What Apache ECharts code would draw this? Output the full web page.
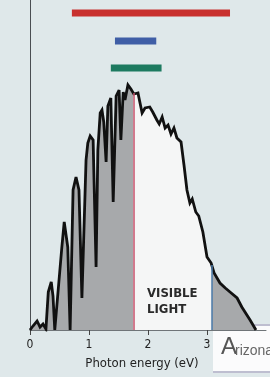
<!DOCTYPE html>
<html>
<head>
<meta charset="utf-8">
<script src="https://cdn.jsdelivr.net/npm/echarts@6/dist/echarts.min.js"></script>
<style>
  html, body { margin: 0; padding: 0; background: #dfe8ea; }
  #chart { width: 270px; height: 377px; }
</style>
</head>
<body>
<div id="chart"></div>
<script>
// solar spectrum, photon energy (eV) vs relative intensity
const energy = [0.00, 0.05, 0.12, 0.17, 0.22, 0.27, 0.31, 0.36, 0.39, 0.42,
  0.54, 0.58, 0.64, 0.68, 0.73, 0.78, 0.83, 0.88, 0.95, 0.98,
  1.02, 1.07, 1.08, 1.12, 1.15, 1.19, 1.22, 1.25, 1.29, 1.32,
  1.37, 1.41, 1.46, 1.51, 1.54, 1.58, 1.61, 1.66, 1.71, 1.76,
  1.83, 1.90, 1.95, 2.03, 2.08, 2.15, 2.19, 2.24, 2.29, 2.34,
  2.39, 2.44, 2.49, 2.56, 2.61, 2.66, 2.71, 2.75, 2.81, 2.86,
  2.93, 3.00, 3.07, 3.12, 3.22, 3.31, 3.39, 3.51, 3.59, 3.73, 3.83]
const intensity = [0.000, 0.020, 0.045, 0.015, 0.030, 0.005, 0.190, 0.240, 0.170, 0.000,
  0.415, 0.540, 0.415, 0.000, 0.700, 0.765, 0.700, 0.160, 0.850, 0.935,
  0.970, 0.950, 0.815, 0.315, 0.900, 1.085, 1.100, 1.040, 0.840, 1.120,
  1.160, 0.640, 1.170, 1.200, 0.950, 1.190, 1.150, 1.225, 1.205, 1.180,
  1.185, 1.085, 1.110, 1.115, 1.090, 1.050, 1.030, 1.065, 1.010, 1.025,
  0.980, 1.010, 0.960, 0.940, 0.825, 0.700, 0.635, 0.655, 0.590, 0.570,
  0.490, 0.365, 0.335, 0.285, 0.235, 0.210, 0.190, 0.160, 0.115, 0.050, 0.000]

// visible light limits (eV)
const visibleRange = [1.75, 3.08]

// absorption bands shown as bars above the spectrum
const bandStart = [0.71, 1.44, 1.37]
const bandEnd = [3.39, 2.14, 2.23]
const bandLevel = [1.585, 1.445, 1.31]
const bandColors = ['#c8302e', '#3f5ea6', '#1d7a60']

const xTicks = [0, 1, 2, 3, 4]

const spectrum = energy.map((e, i) => [e, intensity[i]])

const yAt = (x) => {
  for (let i = 1; i < energy.length; i++) {
    if (energy[i] >= x) {
      const t = (x - energy[i - 1]) / (energy[i] - energy[i - 1])
      return intensity[i - 1] + t * (intensity[i] - intensity[i - 1])
    }
  }
  return 0
}

const chart = echarts.init(document.getElementById('chart'), null, { renderer: 'canvas' })

const narrow = '"Liberation Sans Narrow", "DejaVu Sans Condensed", sans-serif'

const bandSeries = bandStart.map((s, i) => ({
  type: 'line',
  data: [[s, bandLevel[i]], [bandEnd[i], bandLevel[i]]],
  symbol: 'none',
  lineStyle: { color: bandColors[i], width: 7, cap: 'butt' },
  silent: true,
  z: 3,
}))

const option = {
  backgroundColor: '#dfe8ea',
  animation: false,
  grid: {
    left: 30,
    right: 4,
    top: 0,
    bottom: 47,
    outerBoundsMode: 'none',
  },
  xAxis: {
    type: 'value',
    min: 0,
    max: xTicks[xTicks.length - 1],
    interval: 1,
    axisLine: { lineStyle: { color: '#6f7478', width: 1 } },
    axisTick: { show: true, length: 5, lineStyle: { color: '#444' } },
    axisLabel: { color: '#222', fontSize: 12, fontFamily: narrow, margin: 9, showMaxLabel: false },
    splitLine: { show: false },
    name: 'Photon energy (eV)',
    nameLocation: 'middle',
    nameGap: 27,
    nameTextStyle: { color: '#222', fontSize: 13, fontFamily: narrow, padding: [0, 12, 0, 0] },
  },
  yAxis: {
    type: 'value',
    min: 0,
    max: 1.65,
    axisLine: { show: true, lineStyle: { color: '#4a4e52', width: 1 } },
    axisTick: { show: false },
    axisLabel: { show: false },
    splitLine: { show: false },
  },
  visualMap: {
    show: false,
    type: 'piecewise',
    seriesIndex: 0,
    dimension: 0,
    pieces: [
      { lt: visibleRange[0], color: '#a7a9ab' },
      { gte: visibleRange[0], lte: visibleRange[1], color: '#f5f6f6' },
      { gt: visibleRange[1], color: '#a7a9ab' },
    ],
  },
  series: [
    {
      type: 'line',
      data: spectrum,
      symbol: 'none',
      lineStyle: { width: 0 },
      areaStyle: { opacity: 1 },
      silent: true,
      z: 1,
      markLine: {
        silent: true,
        symbol: 'none',
        label: { show: false },
        data: [
          [
            { coord: [visibleRange[0], 0], lineStyle: { color: '#c4506a', width: 1.5, type: 'solid' } },
            { coord: [visibleRange[0], yAt(visibleRange[0])] },
          ],
          [
            { coord: [visibleRange[1], 0], lineStyle: { color: '#4a7aa8', width: 1.5, type: 'solid' } },
            { coord: [visibleRange[1], yAt(visibleRange[1])] },
          ],
        ],
      },
    },
    {
      type: 'line',
      data: spectrum,
      symbol: 'none',
      lineStyle: { color: '#111', width: 2.8, join: 'miter', miterLimit: 4 },
      silent: true,
      z: 4,
    },
    ...bandSeries,
  ],
  graphic: [
    {
      type: 'text',
      left: 147,
      top: 286,
      style: {
        text: 'VISIBLE\nLIGHT',
        fill: '#2a2a2a',
        font: 'bold 13px ' + narrow,
        lineHeight: 16,
      },
      z: 10,
    },
    {
      type: 'group',
      zlevel: 1,
      z: 100,
      children: [
        { type: 'rect', shape: { x: 213, y: 324, width: 57, height: 49 }, style: { fill: '#fbfbfc' } },
        { type: 'line', shape: { x1: 213, y1: 325, x2: 270, y2: 325 }, style: { stroke: '#aaaac2', lineWidth: 1.5 } },
        { type: 'line', shape: { x1: 213, y1: 372, x2: 270, y2: 372 }, style: { stroke: '#aaaac2', lineWidth: 1.5 } },
        { type: 'text', x: 221, y: 359, style: { text: 'A', font: '24px "Liberation Sans", sans-serif', fill: '#555', verticalAlign: 'bottom' } },
        { type: 'text', x: 235, y: 358, style: { text: 'rizona', font: '14px "Liberation Sans", sans-serif', fill: '#666', verticalAlign: 'bottom' } },
      ],
    },
  ],
}

chart.setOption(option)
</script>
</body>
</html>
